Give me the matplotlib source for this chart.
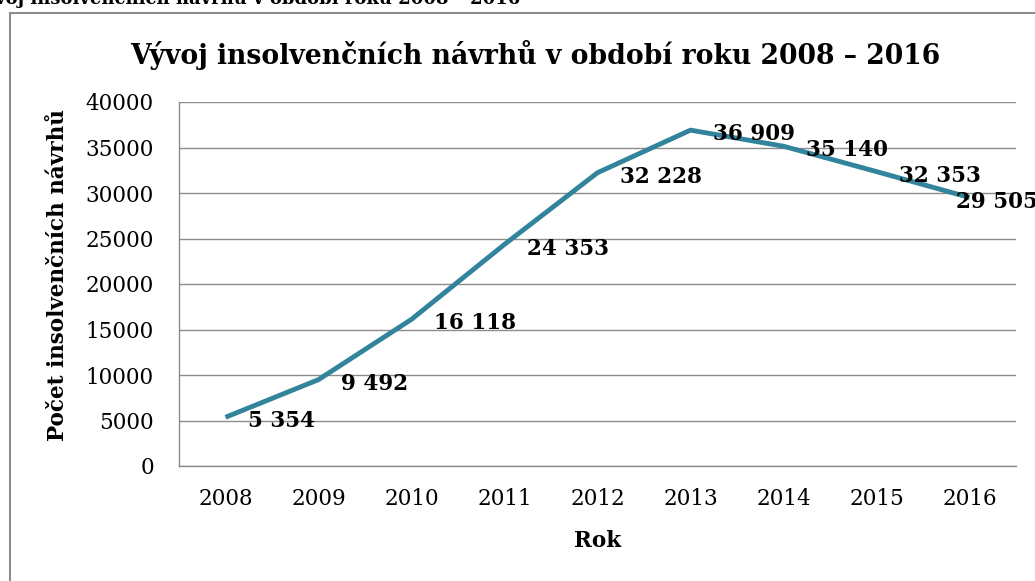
import matplotlib.pyplot as plt
from matplotlib.patches import Rectangle

# data
years = ["2008", "2009", "2010", "2011", "2012", "2013", "2014", "2015", "2016"]
proposals = [5354, 9492, 16118, 24353, 32228, 36909, 35140, 32353, 29505]
y_ticks = [0, 5000, 10000, 15000, 20000, 25000, 30000, 35000, 40000]

title = "Vývoj insolvenčních návrhů v období roku 2008 – 2016"
caption = "Graf č. 2: Vývoj insolvenčních návrhů v období roku 2008 – 2016"
x_label = "Rok"
y_label = "Počet insolvenčních návrhů"

LINE_COLOR = "#31849B"
GRID_COLOR = "#8C8C8C"
FONT = "DejaVu Serif"

plt.rcParams["font.family"] = FONT

W, H = 1035, 581
fig = plt.figure(figsize=(W / 100, H / 100), dpi=100)

# outer chart border (continues past the right and bottom edges)
fig.patches.append(Rectangle((10 / W, -0.1), 1.2, 1 - 13 / H + 0.1,
                             transform=fig.transFigure, fill=False,
                             edgecolor="#8C8C8C", linewidth=1.5))

# document caption, cut off at the top of the image
fig.text(520 / W, 1 - 4 / H, caption, fontsize=13, fontweight="bold",
         va="baseline", ha="right")

ax = fig.add_axes([179 / W, (H - 466) / H, (1016 - 179) / W, (466 - 102) / H])

x = list(range(len(years)))
ax.plot(x, proposals, color=LINE_COLOR, linewidth=3.5, solid_capstyle="butt", zorder=3)

# data labels, Excel style to the right of each point
offsets = [(16, -3)] * 8 + [(-10, -3)]
for i, (xi, v) in enumerate(zip(x, proposals)):
    lbl = f"{v:,}".replace(",", " ")
    ax.annotate(lbl, (xi, v), xytext=offsets[i], textcoords="offset points",
                ha="left", va="center", fontsize=15.5, fontweight="bold",
                annotation_clip=False, zorder=4)

ax.set_xlim(-0.5, len(years) - 0.5)
ax.set_ylim(0, 40000)
ax.set_xticks(x)
ax.set_xticklabels(years)
ax.set_yticks(y_ticks)
ax.set_yticklabels([str(t) for t in y_ticks])
ax.tick_params(axis="both", length=0, labelsize=15.5)
ax.tick_params(axis="x", pad=16)
ax.tick_params(axis="y", pad=18)

ax.grid(axis="y", color=GRID_COLOR, linewidth=1)
ax.set_axisbelow(True)
for side in ["top", "right"]:
    ax.spines[side].set_visible(False)
for side in ["left", "bottom"]:
    ax.spines[side].set_color(GRID_COLOR)
    ax.spines[side].set_linewidth(1)

ax.set_xlabel(x_label, fontsize=15.5, fontweight="bold", va="center")
ax.set_ylabel(y_label, fontsize=15.5, fontweight="bold", va="center")
ax.xaxis.set_label_coords(0.5006, -0.206)
ax.yaxis.set_label_coords(-0.1446, 0.526)

fig.text(535 / W, 1 - 55 / H, title, fontsize=19.2, fontweight="bold",
         ha="center", va="center")

fig.savefig("out.png", dpi=100)
